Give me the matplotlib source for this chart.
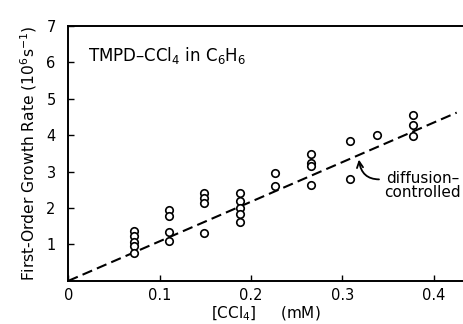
import matplotlib
matplotlib.use("Agg")
import matplotlib.pyplot as plt

# [CCl4] (mM) and first-order growth rate (10^6 s^-1)
conc = [0.072, 0.072, 0.072, 0.072, 0.072,
        0.110, 0.110, 0.110, 0.110,
        0.149, 0.149, 0.149, 0.149,
        0.188, 0.188, 0.188, 0.188, 0.188,
        0.226, 0.226,
        0.266, 0.266, 0.266, 0.266,
        0.308, 0.308,
        0.338,
        0.377, 0.377, 0.377]
rate = [1.37, 1.22, 1.08, 0.96, 0.76,
        1.95, 1.77, 1.35, 1.10,
        2.41, 2.27, 2.13, 1.31,
        2.42, 2.20, 2.00, 1.85, 1.62,
        2.96, 2.61,
        3.48, 3.23, 3.16, 2.64,
        3.85, 2.79,
        4.01,
        4.56, 4.29, 3.98]

# diffusion-controlled line
line_x = [0.0, 0.425]
line_y = [0.0, 4.62]

xticks = [0, 0.1, 0.2, 0.3, 0.4]
xticklabels = ["0", "0.1", "0.2", "0.3", "0.4"]
yticks = [1, 2, 3, 4, 5, 6, 7]

fig = plt.figure(figsize=(4.64, 3.24), dpi=100)
ax = fig.add_axes([0.147, 0.133, 0.853, 0.787])

ax.plot(line_x, line_y, color="black", linestyle=(0, (5, 2.5)), linewidth=1.5)
ax.plot(conc, rate, linestyle="none", marker="o", markersize=5.4,
        markerfacecolor="white", markeredgecolor="black", markeredgewidth=1.2)

ax.set_xlim(0, 0.433)
ax.set_ylim(0, 7)
ax.set_xticks(xticks)
ax.set_xticklabels(xticklabels)
ax.set_yticks(yticks)
ax.tick_params(direction="in", length=4, width=1, labelsize=10.5)
ax.tick_params(axis="y", pad=9)
ax.tick_params(axis="x", pad=5)
ax.spines["right"].set_visible(False)
for s in ["left", "top", "bottom"]:
    ax.spines[s].set_linewidth(1.4)

ax.set_ylabel("First-Order Growth Rate (10$^6$s$^{-1}$)", fontsize=11.2, labelpad=5)
ax.set_xlabel("[CCl$_4$]     (mM)", fontsize=11, labelpad=1)

ax.text(0.022, 6.2, "TMPD\u2013CCl$_4$ in C$_6$H$_6$", fontsize=12, va="center", ha="left")

ax.annotate("diffusion\u2013\ncontrolled", xy=(0.318, 3.33), xytext=(0.388, 2.62),
            fontsize=11, ha="center", va="center", linespacing=0.95,
            arrowprops=dict(arrowstyle="->", color="black", lw=1.3,
                            connectionstyle="arc3,rad=-0.5",
                            relpos=(0.0, 0.72), shrinkA=2, shrinkB=0))

fig.savefig("out.png", dpi=100)
